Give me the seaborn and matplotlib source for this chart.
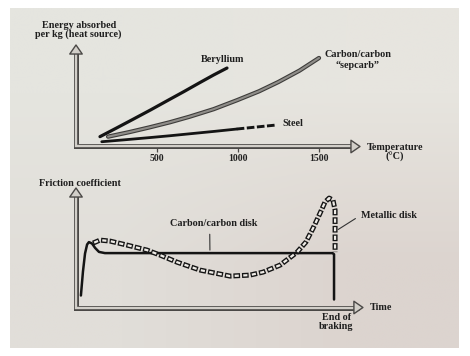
import numpy as np
import matplotlib
matplotlib.use("Agg")
import matplotlib.pyplot as plt
import seaborn as sns
from matplotlib.patches import FancyArrowPatch

# top panel: energy absorbed per kg vs temperature (arbitrary energy units)
temp_beryllium = [148, 250, 352, 460, 562, 665, 765, 850, 932]
energy_beryllium = [9.7, 18.2, 26.8, 36.0, 45.0, 54.0, 63.0, 70.5, 77.3]

temp_carbon = [198, 330, 450, 580, 700, 850, 994, 1130, 1250, 1380, 1500]
energy_carbon = [9.7, 14.2, 18.7, 23.9, 29.3, 36.8, 45.6, 54.4, 63.6, 74.8, 87.2]

temp_steel = [159, 300, 450, 580, 720, 860, 992]
energy_steel = [4.7, 6.6, 8.7, 10.6, 12.8, 15.0, 17.2]
temp_steel_ext = [992, 1120, 1239]
energy_steel_ext = [17.2, 19.3, 21.2]

temp_ticks = [500, 1000, 1500]

# bottom panel: friction coefficient during a stop (end of braking = 100)
time_cc = [1.9, 2.7, 3.5, 4.3, 5.0, 6.2, 7.4, 8.9, 11.2, 99.4, 100.0, 100.0]
mu_cc = [0.06, 0.18, 0.27, 0.315, 0.327, 0.32, 0.298, 0.278, 0.272, 0.272, 0.266, 0.04]

time_metal = [6.6, 9.3, 13.2, 19.8, 27.5, 32.6, 39.1, 48.1, 59.7, 67.4, 72.5, 79.1,
              85.7, 89.1, 91.9, 94.6, 96.5, 98.1, 99.6, 100.4, 100.4, 100.4]
mu_metal = [0.322, 0.337, 0.332, 0.312, 0.287, 0.262, 0.227, 0.187, 0.157, 0.162, 0.177, 0.212,
            0.277, 0.327, 0.397, 0.472, 0.527, 0.547, 0.537, 0.487, 0.387, 0.277]

sns.set_theme(style="white")
plt.rcParams["font.family"] = ["Liberation Serif", "DejaVu Serif"]
plt.rcParams["lines.scale_dashes"] = False

W, H = 470, 356
INK = "#141414"
DARK = "#4a4846"
LIGHT = "#d2cfc9"
TXT = "#1e1e1e"
FS = 7.3

fig = plt.figure(figsize=(4.7, 3.56), dpi=100, facecolor="white")


def fx(px):
    return px / W


def fy(py):
    return 1 - py / H


# photographed page background
bg = fig.add_axes([fx(10), fy(348), 448 / W, 340 / H])
paper = np.array([[[229, 229, 223], [231, 229, 223]],
                  [[225, 222, 217], [220, 212, 207]]]) / 255
bg.imshow(paper, interpolation="bilinear", aspect="auto")
bg.axis("off")

ax1 = fig.add_axes([fx(76), fy(146.5), 291.6 / W, 101.5 / H])
ax2 = fig.add_axes([fx(76), fy(307.5), 289 / W, 120 / H])


def axis_arrows(ax, xtip, ytip, xcut, ycut):
    # hollow L-shaped axes drawn as a double line, with hollow heads
    for lw, c in [(3.6, DARK), (1.7, LIGHT)]:
        ax.plot([0, 0, xtip - xcut], [ytip - ycut, 0, 0], color=c, linewidth=lw,
                solid_joinstyle="miter", solid_capstyle="butt", clip_on=False, zorder=4)
    for a, b in [((xtip - xcut * 0.1, 0), (xtip, 0)), ((0, ytip - ycut * 0.1), (0, ytip))]:
        head = FancyArrowPatch(a, b, arrowstyle="simple,head_length=0.65,head_width=0.9,tail_width=0.1",
                               mutation_scale=10, fc=LIGHT, ec=DARK, lw=1.0,
                               shrinkA=0, shrinkB=0, zorder=5, clip_on=False)
        ax.add_patch(head)


for ax in (ax1, ax2):
    ax.patch.set_visible(False)
    for s in ax.spines.values():
        s.set_visible(False)

# ---- top panel
ax1.set_xlim(0, 1800)
ax1.set_ylim(0, 100)
sns.lineplot(x=temp_beryllium, y=energy_beryllium, ax=ax1, color=INK, linewidth=2.3,
             estimator=None, sort=False)
sns.lineplot(x=temp_carbon, y=energy_carbon, ax=ax1, color="#3e3d3b", linewidth=3.1,
             estimator=None, sort=False)
sns.lineplot(x=temp_carbon, y=energy_carbon, ax=ax1, color="#8f8d89", linewidth=1.5,
             estimator=None, sort=False)
sns.lineplot(x=temp_steel, y=energy_steel, ax=ax1, color=INK, linewidth=2.0,
             estimator=None, sort=False)
sns.lineplot(x=temp_steel_ext, y=energy_steel_ext, ax=ax1, color=INK, linewidth=2.1,
             linestyle=(0, (5.5, 1.8)), estimator=None, sort=False)
axis_arrows(ax1, 1753, 100, 25, 4)
ax1.set_xticks(temp_ticks)
ax1.set_xticklabels([str(t) for t in temp_ticks])
ax1.set_yticks([])
ax1.tick_params(axis="x", bottom=True, length=4.5, width=0.9, color=DARK, pad=1.2,
                labelsize=FS - 0.3, labelcolor=TXT)
for lbl in ax1.get_xticklabels():
    lbl.set_fontweight("bold")
ax1.set_xlabel("")
ax1.set_ylabel("")

# ---- bottom panel
ax2.set_xlim(0, 112)
ax2.set_ylim(0, 0.6)
sns.lineplot(x=time_cc, y=mu_cc, ax=ax2, color=INK, linewidth=1.8,
             estimator=None, sort=False)
# chain-like line: black dashes with a pale core in each link
sns.lineplot(x=time_metal, y=mu_metal, ax=ax2, color=INK, linewidth=3.6,
             linestyle=(0, (4.8, 1.4)), estimator=None, sort=False)
sns.lineplot(x=time_metal, y=mu_metal, ax=ax2, color="#efece7", linewidth=1.6,
             linestyle=(5.3, (3.0, 3.2)), estimator=None, sort=False)
axis_arrows(ax2, 111.2, 0.5975, 1.5, 0.02)
ax2.set_xticks([])
ax2.set_yticks([])
ax2.set_xlabel("")
ax2.set_ylabel("")

ax2.annotate("Carbon/carbon disk", xy=(51.9, 0.287), xytext=(53.5, 0.4225),
             ha="center", va="center", fontsize=FS, fontweight="bold", color=TXT,
             arrowprops=dict(arrowstyle="-", color="#333333", lw=0.8, relpos=(0.45, 0),
                             shrinkA=2.5, shrinkB=0))
ax2.annotate("Metallic disk", xy=(101.6, 0.39), xytext=(121.3, 0.4625),
             ha="center", va="center", fontsize=FS, fontweight="bold", color=TXT,
             arrowprops=dict(arrowstyle="-", color="#333333", lw=0.8, relpos=(0, 0.5),
                             shrinkA=2, shrinkB=0), annotation_clip=False)

# ---- labels
kw = dict(fontsize=FS, fontweight="bold", color=TXT, ha="center", va="center")
fig.text(fx(79), fy(25), "Energy absorbed", **kw)
fig.text(fx(78.5), fy(34), "per kg (heat source)", **kw)
fig.text(fx(223), fy(60), "Beryllium", **kw)
fig.text(fx(358), fy(60), "Carbon/carbon\n\u201csepcarb\u201d", linespacing=1.15, **kw)
fig.text(fx(293), fy(123), "Steel", **kw)
fig.text(fx(395), fy(152.5), "Temperature\n(\u00b0C)", linespacing=1.1, **kw)
fig.text(fx(79.5), fy(183), "Friction coefficient", **kw)
fig.text(fx(381.5), fy(307), "Time", **kw)
fig.text(fx(336.5), fy(322), "End of\nbraking", linespacing=1.0, **kw)

fig.savefig("out.png", dpi=100, facecolor="white")
